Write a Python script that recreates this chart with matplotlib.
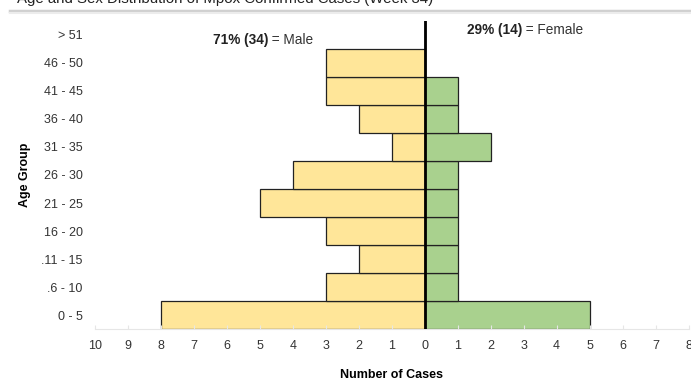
import matplotlib.pyplot as plt
from matplotlib.lines import Line2D
import numpy as np

plt.rcParams['font.family'] = ['Liberation Sans', 'DejaVu Sans']

# Age groups listed bottom to top
age_groups = ['0 - 5', '.6 - 10', '.11 - 15', '16 - 20', '21 - 25', '26 - 30',
              '31 - 35', '36 - 40', '41 - 45', '46 - 50', '> 51']
male = [8, 3, 2, 3, 5, 4, 1, 2, 3, 3, 0]
female = [5, 1, 1, 1, 1, 1, 2, 1, 1, 0, 0]
x_ticks = list(range(-10, 9))
x_labels = [str(abs(v)) for v in x_ticks]

MALE_COLOR = '#FFE699'
FEMALE_COLOR = '#A9D18E'

fig = plt.figure(figsize=(6.91, 3.80), dpi=100)
ax = fig.add_axes([0.1375, 0.134, 0.859, 0.811])

y = np.arange(len(age_groups))
ax.barh(y, -np.array(male), height=1.0, color=MALE_COLOR, edgecolor='#222222', linewidth=0.9)
ax.barh(y, female, height=1.0, color=FEMALE_COLOR, edgecolor='#222222', linewidth=0.9)

ax.axvline(0, color='black', linewidth=2, zorder=5)

ax.set_xlim(-10, 8)
ax.set_ylim(-0.5, len(age_groups) - 0.5)
ax.set_xticks(x_ticks)
ax.set_xticklabels(x_labels, fontsize=9, color='#333333')
ax.set_yticks(y)
ax.set_yticklabels(age_groups, fontsize=9, color='#333333')

for side in ['top', 'right', 'left']:
    ax.spines[side].set_visible(False)
ax.spines['bottom'].set_color('#e6e6e6')
ax.tick_params(axis='y', length=0, pad=9)
ax.tick_params(axis='x', direction='in', length=3, color='#e6e6e6', pad=8)

ax.set_xlabel('Number of Cases', fontsize=9, fontweight='bold', labelpad=12)
ax.set_ylabel('Age Group', fontsize=9, fontweight='bold', labelpad=7)

# Sex share annotations (bold part + normal part)
t1 = ax.text(-6.42, 9.82, '71% (34)', fontsize=9.8, fontweight='bold', va='center', color='#222222')
ax.annotate(' = Male', xy=(1, 0), xycoords=t1, va='bottom', fontsize=9.8, color='#333333')
t2 = ax.text(1.27, 10.18, '29% (14)', fontsize=9.8, fontweight='bold', va='center', color='#222222')
ax.annotate(' = Female', xy=(1, 0), xycoords=t2, va='bottom', fontsize=9.8, color='#333333')

# Title cut off at the top of the image, with the header shadow below it
fig.text(0.025, 0.991, 'Age and Sex Distribution of Mpox Confirmed Cases (Week 34)',
         fontsize=10.8, va='baseline', color='#222222')
fig.add_artist(Line2D([0.015, 1.0], [0.972, 0.972], transform=fig.transFigure,
                      color='#d0d0d0', linewidth=2.5))
fig.add_artist(Line2D([0.015, 1.0], [0.967, 0.967], transform=fig.transFigure,
                      color='#ececec', linewidth=1.5))

fig.savefig('out.png', dpi=100)
